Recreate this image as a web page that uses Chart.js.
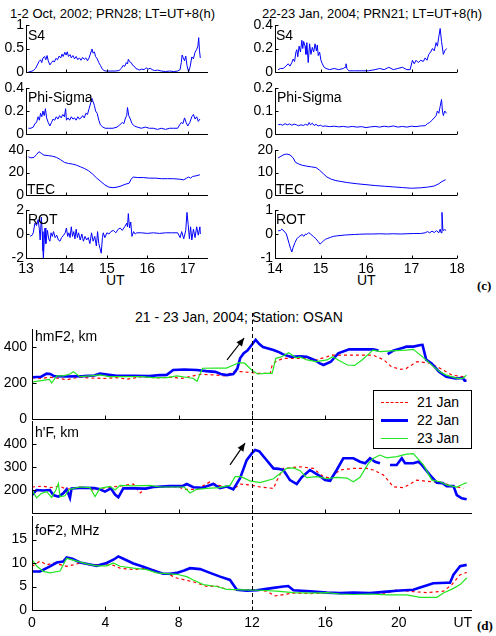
<!DOCTYPE html>
<html>
<head>
<meta charset="utf-8">
<script src="https://cdn.jsdelivr.net/npm/chart.js@4.4.1/dist/chart.umd.min.js"></script>
<style>
body { margin: 0; background: #fff; width: 496px; height: 636px; position: relative; overflow: hidden; font-family: "Liberation Sans", Arial, sans-serif; }
.txt { position: absolute; white-space: nowrap; line-height: 1; color: #000; }
.t13 { font-size: 13px; }
.t14 { font-size: 14px; }
.tag { font-family: "Liberation Serif", "Times New Roman", serif; font-weight: bold; font-size: 13px; }
canvas { position: absolute; }
</style>
</head>
<body>

<div class="txt t13" style="left:10px;top:7px">1-2 Oct, 2002; PRN28; LT=UT+8(h)</div>
<div class="txt t13" style="left:262px;top:7px">22-23 Jan, 2004; PRN21; LT=UT+8(h)</div>
<div class="txt t14" style="left:106px;top:273px">UT</div>
<div class="txt t14" style="left:357px;top:273px">UT</div>
<div class="txt tag" style="left:477px;top:279px">(c)</div>
<div class="txt t14" style="left:135px;top:310px">21 - 23 Jan, 2004; Station: OSAN</div>
<div class="txt tag" style="left:477px;top:619px">(d)</div>

<script>
//Data: [UT hour, value]
//Panel (c), left: 1-2 Oct 2002, PRN28
const octS4 = [[13.06,0],[13.12,0.01],[13.18,0.03],[13.24,0.08],[13.28,0.15],[13.32,0.22],[13.36,0.26],[13.39,0.2],[13.42,0.3],[13.46,0.33],[13.49,0.26],[13.52,0.35],[13.55,0.24],[13.59,0.15],[13.63,0.2],[13.67,0.24],[13.7,0.21],[13.74,0.29],[13.78,0.26],[13.82,0.34],[13.86,0.3],[13.89,0.38],[13.92,0.33],[13.96,0.42],[13.99,0.36],[14.02,0.43],[14.05,0.33],[14.09,0.37],[14.12,0.3],[14.16,0.35],[14.2,0.28],[14.24,0.33],[14.28,0.26],[14.32,0.3],[14.36,0.25],[14.4,0.31],[14.44,0.27],[14.48,0.3],[14.52,0.24],[14.56,0.3],[14.59,0.38],[14.61,0.44],[14.63,0.49],[14.66,0.4],[14.69,0.43],[14.72,0.33],[14.76,0.28],[14.8,0.2],[14.84,0.14],[14.88,0.07],[14.93,0.03],[14.98,0.02],[15.1,0.02],[15.2,0.02],[15.3,0.03],[15.36,0.08],[15.4,0.14],[15.44,0.12],[15.48,0.2],[15.51,0.17],[15.53,0.27],[15.56,0.22],[15.6,0.2],[15.64,0.14],[15.68,0.12],[15.72,0.07],[15.76,0.06],[15.8,0.04],[15.86,0.06],[15.92,0.05],[15.97,0.09],[16.02,0.06],[16.07,0.08],[16.12,0.05],[16.18,0.03],[16.25,0.04],[16.35,0.02],[16.45,0.01],[16.55,0.02],[16.65,0.01],[16.75,0.02],[16.81,0.05],[16.84,0.2],[16.86,0.36],[16.89,0.3],[16.92,0.24],[16.95,0.34],[16.98,0.14],[17.02,0.0],[17.06,0.12],[17.1,0.32],[17.14,0.28],[17.18,0.42],[17.22,0.48],[17.25,0.55],[17.27,0.73],[17.29,0.45],[17.31,0.3]];
const octPhi = [[13.06,0.05],[13.12,0.05],[13.18,0.06],[13.22,0.09],[13.26,0.1],[13.3,0.15],[13.33,0.12],[13.36,0.18],[13.39,0.15],[13.42,0.2],[13.45,0.16],[13.48,0.22],[13.51,0.14],[13.55,0.1],[13.59,0.07],[13.63,0.1],[13.67,0.13],[13.71,0.12],[13.75,0.15],[13.79,0.13],[13.83,0.16],[13.87,0.14],[13.91,0.17],[13.95,0.15],[13.98,0.22],[14.0,0.12],[14.04,0.14],[14.08,0.12],[14.12,0.15],[14.16,0.13],[14.2,0.14],[14.24,0.12],[14.28,0.15],[14.32,0.13],[14.36,0.14],[14.4,0.16],[14.44,0.14],[14.48,0.18],[14.52,0.17],[14.56,0.22],[14.6,0.27],[14.63,0.31],[14.66,0.28],[14.69,0.25],[14.72,0.2],[14.76,0.18],[14.8,0.12],[14.84,0.08],[14.9,0.06],[14.96,0.05],[15.05,0.05],[15.15,0.05],[15.25,0.06],[15.32,0.08],[15.38,0.1],[15.42,0.09],[15.46,0.14],[15.49,0.16],[15.51,0.23],[15.54,0.16],[15.58,0.13],[15.62,0.09],[15.68,0.07],[15.75,0.06],[15.85,0.05],[15.95,0.06],[16.05,0.05],[16.15,0.05],[16.25,0.04],[16.35,0.05],[16.45,0.04],[16.55,0.05],[16.65,0.05],[16.75,0.05],[16.8,0.08],[16.84,0.1],[16.88,0.09],[16.92,0.14],[16.96,0.1],[17.0,0.07],[17.05,0.1],[17.1,0.15],[17.14,0.17],[17.18,0.13],[17.22,0.15],[17.26,0.11],[17.3,0.13]];
const octTEC = [[13.06,34],[13.12,33],[13.2,33.5],[13.26,36],[13.32,38.5],[13.38,37],[13.44,35.5],[13.55,35],[13.65,34.5],[13.75,33.5],[13.85,31.5],[13.95,29],[14.05,28],[14.15,27.5],[14.25,26.5],[14.35,25],[14.45,23.5],[14.55,21.5],[14.65,18.5],[14.75,15],[14.85,12],[14.95,9],[15.05,7],[15.15,6.5],[15.25,7],[15.35,8],[15.45,9.5],[15.55,10.5],[15.6,14],[15.65,16],[15.75,15.5],[15.9,15.5],[16.05,15],[16.2,15],[16.35,14.5],[16.5,14.5],[16.65,14.5],[16.8,14],[16.9,13.5],[16.97,15],[17.02,16],[17.07,15],[17.12,16.5],[17.2,17],[17.3,18]];
const octROT = [[13.1,-0.2],[13.15,-0.1],[13.18,0.1],[13.22,0.9],[13.26,0.7],[13.3,1.2],[13.33,0.4],[13.35,-0.5],[13.38,1.4],[13.4,0.2],[13.42,-1.4],[13.43,-2],[13.45,-0.6],[13.47,0.5],[13.49,-0.8],[13.51,-0.2],[13.53,0.3],[13.56,-0.4],[13.59,-0.6],[13.62,0.1],[13.65,-0.2],[13.68,0.2],[13.72,-0.3],[13.76,-0.1],[13.8,-0.5],[13.84,-0.6],[13.88,-0.3],[13.93,-0.1],[13.97,0.1],[14.0,0.5],[14.03,-0.2],[14.06,0.1],[14.09,-0.3],[14.12,0.6],[14.15,-0.2],[14.18,0.2],[14.21,-0.4],[14.24,0.4],[14.27,-0.3],[14.3,0.1],[14.34,-0.5],[14.38,0],[14.42,-0.6],[14.46,-0.2],[14.5,-0.5],[14.54,-0.3],[14.58,-0.8],[14.62,0.1],[14.66,-0.6],[14.7,-0.2],[14.74,-1.0],[14.77,0.2],[14.8,-0.8],[14.83,-1.2],[14.86,-1.6],[14.89,-0.3],[14.91,0.1],[14.95,-0.3],[15.0,0.1],[15.05,0.0],[15.1,0.2],[15.16,0.3],[15.22,0.1],[15.28,0.4],[15.33,0.5],[15.38,0.3],[15.44,0.6],[15.49,0.9],[15.51,0.6],[15.53,1.7],[15.56,0.5],[15.59,1.0],[15.62,-0.2],[15.66,0.2],[15.7,0.0],[15.74,0.1],[15.85,0.1],[16.0,0.05],[16.15,0.1],[16.3,0.05],[16.45,0.1],[16.6,0.1],[16.75,0.1],[16.81,-0.3],[16.85,0.2],[16.9,-0.4],[16.95,0.3],[16.98,1.8],[17.01,0.8],[17.04,-0.4],[17.07,0.6],[17.1,-0.5],[17.14,0.4],[17.18,-0.3],[17.22,0.6],[17.26,-0.1],[17.3,0.6],[17.31,0]];

//Panel (c), right: 22-23 Jan 2004, PRN21
const janS4 = [[14.07,0.02],[14.12,0.03],[14.18,0.03],[14.24,0.05],[14.29,0.07],[14.33,0.05],[14.37,0.08],[14.4,0.11],[14.43,0.09],[14.46,0.17],[14.48,0.19],[14.5,0.13],[14.53,0.22],[14.56,0.17],[14.59,0.27],[14.61,0.2],[14.63,0.26],[14.66,0.22],[14.68,0.15],[14.7,0.25],[14.73,0.08],[14.76,0.24],[14.79,0.15],[14.82,0.21],[14.85,0.17],[14.88,0.24],[14.91,0.18],[14.93,0.23],[14.95,0.14],[14.98,0.17],[15.01,0.1],[15.04,0.07],[15.08,0.04],[15.12,0.03],[15.2,0.02],[15.3,0.03],[15.4,0.02],[15.5,0.03],[15.54,0.04],[15.56,0.07],[15.58,0.03],[15.62,0.01],[15.75,0.01],[15.9,0.01],[16.05,0.01],[16.2,0.02],[16.3,0.03],[16.4,0.02],[16.5,0.04],[16.6,0.02],[16.7,0.03],[16.8,0.04],[16.9,0.02],[16.97,0.02],[17.02,0.1],[17.06,0.07],[17.1,0.1],[17.15,0.08],[17.2,0.1],[17.26,0.09],[17.3,0.12],[17.34,0.1],[17.38,0.15],[17.42,0.17],[17.46,0.2],[17.5,0.18],[17.54,0.25],[17.57,0.22],[17.6,0.3],[17.63,0.37],[17.66,0.26],[17.7,0.15],[17.73,0.18],[17.77,0.2]];
const janPhi = [[14.07,0.04],[14.12,0.042],[14.17,0.038],[14.22,0.045],[14.27,0.04],[14.32,0.044],[14.37,0.038],[14.42,0.043],[14.47,0.04],[14.52,0.036],[14.57,0.04],[14.62,0.037],[14.67,0.042],[14.72,0.038],[14.75,0.05],[14.78,0.04],[14.82,0.047],[14.86,0.037],[14.9,0.042],[14.95,0.035],[15.0,0.038],[15.05,0.033],[15.1,0.035],[15.2,0.032],[15.3,0.034],[15.4,0.031],[15.5,0.033],[15.6,0.03],[15.7,0.033],[15.8,0.03],[15.9,0.032],[16.0,0.028],[16.1,0.031],[16.2,0.033],[16.3,0.03],[16.4,0.034],[16.5,0.031],[16.6,0.035],[16.7,0.03],[16.8,0.033],[16.9,0.03],[17.0,0.034],[17.1,0.032],[17.2,0.035],[17.3,0.036],[17.35,0.045],[17.4,0.05],[17.45,0.06],[17.5,0.07],[17.54,0.08],[17.57,0.1],[17.6,0.09],[17.63,0.12],[17.66,0.15],[17.68,0.1],[17.7,0.08],[17.73,0.1],[17.77,0.09]];
const janTEC = [[14.07,16.5],[14.13,17.2],[14.2,18],[14.26,18.2],[14.33,17.8],[14.4,16.5],[14.45,14.5],[14.52,13.8],[14.6,13.2],[14.7,12.8],[14.8,12.5],[14.9,12.2],[14.98,11],[15.06,9.5],[15.14,8],[15.24,7],[15.34,6.4],[15.45,6],[15.6,5.5],[15.8,5],[16.0,4.6],[16.2,4.2],[16.4,3.9],[16.6,3.6],[16.8,3.3],[17.0,3],[17.2,3.2],[17.35,3.5],[17.5,4],[17.6,5],[17.67,6],[17.75,6.8]];
const janROT = [[14.07,0.13],[14.12,0.15],[14.15,0.2],[14.2,0.12],[14.25,0.0],[14.31,-0.4],[14.34,-0.6],[14.37,-0.75],[14.4,-0.55],[14.44,-0.35],[14.48,-0.2],[14.52,-0.12],[14.55,-0.08],[14.6,-0.02],[14.63,-0.1],[14.67,0.0],[14.7,-0.02],[14.74,0.06],[14.78,0.0],[14.84,-0.1],[14.9,-0.2],[14.95,-0.32],[14.99,-0.42],[15.03,-0.35],[15.07,-0.28],[15.11,-0.22],[15.16,-0.18],[15.22,-0.14],[15.28,-0.1],[15.35,-0.08],[15.45,-0.06],[15.55,-0.04],[15.65,-0.03],[15.75,-0.02],[15.85,-0.01],[16.0,0.0],[16.15,0.0],[16.3,0.01],[16.45,0.0],[16.6,0.01],[16.75,0.0],[16.9,0.01],[17.05,0.02],[17.2,0.02],[17.3,0.05],[17.35,0.1],[17.4,0.05],[17.45,0.12],[17.5,0.06],[17.55,0.14],[17.6,0.05],[17.63,0.2],[17.65,0.05],[17.67,0.9],[17.69,0.15],[17.73,0.18],[17.76,0.15]];

//Panel (d): OSAN station, 21/22/23 Jan 2004
const dayLabels = ['21 Jan', '22 Jan', '23 Jan'];
const hmF2_21 = [[0,230],[0.5,225],[1.0,232],[1.5,225],[1.9,218],[2.5,232],[3.2,228],[4.0,225],[4.6,230],[5.2,222],[6.0,235],[6.8,228],[7.5,232],[8.2,226],[8.8,240],[9.2,248],[9.9,245],[10.5,240],[11.0,263],[11.5,263],[11.9,258],[12.3,254],[13.0,254],[13.1,300],[13.3,319],[13.7,337],[14.98,337],[15.5,328],[16.4,355],[17.3,355],[18.6,355],[19.2,328],[19.6,291],[20.1,276],[20.4,280],[21.0,319],[21.7,310],[22.25,282],[22.9,244],[23.5,235],[23.7,232]];
const hmF2_22 = [[0,232],[0.5,235],[0.8,252],[1.0,250],[1.2,238],[1.9,236],[2.8,238],[3.4,242],[3.7,252],[4.0,248],[4.6,240],[5.5,240],[6.4,238],[6.98,244],[7.35,245],[7.7,272],[8.3,275],[9.0,272],[9.5,266],[10.0,262],[10.3,250],[10.62,244],[10.98,250],[11.2,280],[11.35,337],[11.55,365],[11.75,380],[12.2,440],[12.4,416],[12.6,400],[13.17,383],[13.5,370],[13.7,359],[14.1,346],[14.6,348],[14.98,346],[15.4,328],[15.7,309],[15.9,300],[16.3,318],[16.7,365],[17.3,387],[18.0,387],[18.6,387],[18.9,380],[19.1,null],[19.4,360],[19.7,380],[20.2,395],[20.43,402],[20.8,402],[21.2,411],[21.3,412],[21.5,330],[21.8,309],[22.2,263],[22.6,235],[23.1,226],[23.5,228],[23.6,213],[23.7,213]];
const hmF2_23 = [[0,205],[0.3,210],[0.6,215],[0.95,220],[1.07,200],[1.35,240],[1.7,240],[2.07,250],[2.25,262],[2.62,235],[3.2,240],[3.71,245],[4.2,235],[5.0,235],[6.0,235],[6.6,230],[7.35,230],[7.9,240],[8.4,232],[8.8,225],[9.0,210],[9.3,282],[10.0,283],[10.6,283],[11.0,300],[11.3,313],[11.6,310],[11.98,272],[12.3,250],[12.7,253],[13.1,253],[13.3,337],[13.6,345],[14.0,368],[14.4,340],[14.6,345],[15.0,328],[15.5,319],[16.1,328],[16.4,346],[16.7,328],[17.2,300],[17.6,298],[18.0,328],[18.6,383],[19.0,374],[19.6,378],[20.4,383],[20.8,387],[21.4,337],[21.9,291],[22.25,263],[22.6,244],[23.2,226],[23.5,226],[23.7,244]];
const hF_21 = [[0,213],[0.6,217],[1.0,210],[1.5,217],[1.89,203],[2.6,213],[3.35,200],[4.0,210],[4.8,217],[5.53,226],[5.9,187],[6.3,213],[7.0,213],[8.0,213],[8.3,203],[9.0,203],[9.7,235],[10.2,220],[10.62,213],[10.98,203],[11.35,226],[11.89,222],[12.44,213],[13.17,207],[13.35,240],[13.71,294],[14.62,301],[15.35,294],[15.89,258],[16.26,252],[16.8,287],[17.53,294],[18.26,294],[18.62,287],[19.17,265],[19.71,214],[20.26,210],[20.98,243],[21.53,238],[22.26,233],[22.99,217],[23.53,207]];
const hF_22 = [[0,178],[0.25,200],[0.6,198],[0.98,200],[1.16,178],[1.44,171],[1.7,185],[1.89,203],[2.07,166],[2.16,207],[2.8,210],[3.4,208],[3.71,203],[3.98,193],[4.3,207],[4.53,180],[4.71,168],[4.98,207],[5.6,207],[6.2,206],[6.62,213],[7.5,217],[8.2,217],[8.44,226],[8.8,212],[9.3,210],[9.89,226],[10.25,208],[10.62,215],[10.98,203],[11.35,251],[11.71,330],[12.0,360],[12.17,374],[12.4,368],[12.71,338],[13.17,294],[13.45,292],[13.71,287],[14.07,243],[14.44,226],[14.71,255],[15.16,287],[15.62,265],[15.98,243],[16.26,240],[16.62,287],[16.98,338],[17.53,338],[17.89,323],[18.17,316],[18.44,338],[18.71,323],[18.98,316],[19.2,null],[19.53,309],[19.89,309],[20.17,338],[20.35,316],[20.8,316],[21.08,323],[21.26,309],[21.71,265],[22.08,232],[22.4,230],[22.62,217],[22.99,217],[23.17,178],[23.44,164],[23.71,160]];
const hF_23 = [[0,200],[0.25,166],[0.5,185],[0.8,193],[1.07,168],[1.3,200],[1.44,229],[1.53,171],[1.8,175],[2.0,200],[2.25,207],[2.62,213],[3.16,210],[3.44,171],[3.71,207],[4.26,216],[4.53,200],[4.8,220],[5.53,218],[6.44,220],[6.98,213],[7.5,213],[8.3,213],[8.62,187],[8.98,203],[9.53,207],[10.2,210],[10.8,220],[11.08,258],[11.4,258],[11.89,240],[12.44,232],[13.17,249],[13.53,272],[13.89,294],[14.26,296],[14.62,284],[14.98,254],[15.53,258],[16.08,249],[16.62,255],[17.17,252],[17.53,236],[17.89,255],[18.35,316],[18.62,338],[18.98,352],[19.35,340],[19.9,345],[20.43,356],[20.8,358],[21.35,309],[21.81,243],[22.26,236],[22.62,222],[23.17,213],[23.53,226],[23.71,232]];
const foF2_21 = [[0,9.3],[0.44,10.4],[0.8,9.6],[1.16,10.0],[1.89,9.3],[2.25,9.6],[2.62,10.0],[3.16,9.6],[3.71,9.7],[4.44,9.5],[4.8,8.9],[5.53,8.6],[6.26,8.9],[6.62,8.6],[6.98,7.9],[7.5,7.5],[7.89,6.8],[8.44,6.3],[8.8,6.0],[9.53,5.0],[10.07,5.1],[10.62,4.4],[11.5,4.3],[12.26,4.3],[12.8,4.0],[13.26,3.0],[14.26,3.6],[15.17,3.5],[16.09,3.7],[17.0,3.6],[18.0,3.6],[19.35,3.6],[19.89,4.3],[20.8,3.9],[21.53,3.7],[22.44,4.0],[22.9,5.4],[23.35,7.5],[23.71,8.0]];
const foF2_22 = [[0,8.2],[0.44,8.2],[0.98,9.3],[1.35,10.1],[1.7,10.3],[1.89,11.2],[2.2,10.9],[2.62,10.1],[3.16,9.7],[3.53,9.4],[4.07,10.0],[4.44,10.7],[4.71,11.4],[4.98,10.9],[5.53,9.9],[6.07,9.2],[6.62,8.4],[7.16,7.7],[7.53,7.7],[7.89,7.9],[8.3,8.4],[8.62,8.9],[9.17,8.7],[9.71,7.9],[10.26,7.1],[10.8,6.4],[11.17,4.3],[11.71,4.1],[12.26,4.2],[12.98,4.6],[13.71,5.0],[13.98,5.1],[14.26,4.2],[15.17,4.0],[16.09,3.7],[16.8,3.6],[17.53,3.7],[18.44,3.6],[19.35,3.9],[19.89,4.1],[20.8,4.3],[21.17,4.8],[21.89,5.7],[22.62,5.8],[22.8,5.8],[22.99,7.5],[23.35,9.3],[23.71,9.6]];
const foF2_23 = [[0,10.7],[0.27,9.3],[0.62,8.2],[0.98,7.9],[1.53,8.3],[1.89,11.0],[2.44,10.4],[2.98,9.8],[3.53,9.4],[4.07,9.4],[4.44,10.0],[4.8,9.3],[5.53,8.9],[6.26,8.6],[6.8,7.9],[7.53,7.7],[7.89,7.6],[8.44,7.1],[8.8,6.4],[9.35,5.4],[10.07,5.0],[10.62,4.4],[11.53,4.3],[12.44,4.2],[13.35,4.0],[14.26,3.7],[15.17,3.6],[16.09,3.7],[16.8,3.4],[17.53,3.3],[18.44,3.4],[19.35,3.2],[20.44,3.2],[21.17,2.7],[22.08,2.7],[22.44,3.6],[22.99,4.6],[23.35,5.4],[23.71,6.8]];

//Tick values
const octTicksX = [13, 14, 15, 16, 17];
const janTicksX = [14, 15, 16, 17, 18];
const utTicksX = [0, 4, 8, 12, 16, 20, 23.5]; // the last one carries the "UT" label
const eventHour = 12; // dashed marker line in (d)

//Styles
const thinBlue = '#0000ff';
const dayColors = ['#ff0000', '#0000ff', '#22e622'];
const dayWidths = [1.2, 2.6, 1.2];
const dayDashes = [[3, 3], [], []];

function dayLines(d21, d22, d23) { //green on top, red underneath (first dataset is drawn last)
    return [
        { data: d23, color: dayColors[2], width: dayWidths[2], dash: dayDashes[2] },
        { data: d22, color: dayColors[1], width: dayWidths[1], dash: dayDashes[1] },
        { data: d21, color: dayColors[0], width: dayWidths[0], dash: dayDashes[0] }
    ];
}

function axesPlugin(p) { //matlab style axes: left + bottom line, ticks pointing inward
    return {
        id: 'matlabAxes',
        afterDatasetsDraw(chart) {
            const ctx = chart.ctx;
            const a = chart.chartArea;
            const xs = chart.scales.x, ys = chart.scales.y;
            const L = Math.round(a.left) + 0.5, B = Math.round(a.bottom) + 0.5;
            ctx.save();
            if (p.vline !== undefined) { //dashed event line
                const vx = Math.round(xs.getPixelForValue(p.vline)) + 0.5;
                ctx.strokeStyle = '#000';
                ctx.lineWidth = 1;
                ctx.setLineDash([4, 3]);
                ctx.beginPath();
                ctx.moveTo(vx, a.top - (p.vlineUp || 0));
                ctx.lineTo(vx, a.bottom);
                ctx.stroke();
                ctx.setLineDash([]);
            }
            if (p.arrow) { //arrow pointing at the uplift
                const x0 = xs.getPixelForValue(p.arrow[0]), y0 = ys.getPixelForValue(p.arrow[1]);
                const x1 = xs.getPixelForValue(p.arrow[2]), y1 = ys.getPixelForValue(p.arrow[3]);
                const ang = Math.atan2(y1 - y0, x1 - x0);
                ctx.strokeStyle = '#000';
                ctx.fillStyle = '#000';
                ctx.lineWidth = 1.2;
                ctx.beginPath();
                ctx.moveTo(x0, y0);
                ctx.lineTo(x1, y1);
                ctx.stroke();
                ctx.beginPath();
                ctx.moveTo(x1, y1);
                ctx.lineTo(x1 - 8 * Math.cos(ang) + 3.5 * Math.sin(ang), y1 - 8 * Math.sin(ang) - 3.5 * Math.cos(ang));
                ctx.lineTo(x1 - 8 * Math.cos(ang) - 3.5 * Math.sin(ang), y1 - 8 * Math.sin(ang) + 3.5 * Math.cos(ang));
                ctx.closePath();
                ctx.fill();
            }
            ctx.strokeStyle = '#000';
            ctx.lineWidth = 1;
            ctx.beginPath();
            ctx.moveTo(L, Math.round(a.top));
            ctx.lineTo(L, B);
            ctx.lineTo(Math.round(a.right), B);
            p.xticks.forEach(v => {
                if (p.noMark && p.noMark(v)) return;
                const x = Math.round(xs.getPixelForValue(v)) + 0.5;
                ctx.moveTo(x, B);
                ctx.lineTo(x, B - p.tl);
            });
            p.yticks.forEach(v => {
                const y = Math.round(ys.getPixelForValue(v)) + 0.5;
                ctx.moveTo(L, y);
                ctx.lineTo(L + p.tl, y);
            });
            ctx.stroke();
            ctx.restore();
        }
    };
}

function makePanel(p) { //one axes = one chart, its plot area placed at p.l..p.r, p.t..p.b
    const w = p.yw + (p.r - p.l) + p.pr;
    const h = p.pt + (p.b - p.t) + p.xh;
    const cv = document.createElement('canvas');
    cv.width = w;
    cv.height = h;
    cv.style.left = (p.l - p.yw) + 'px';
    cv.style.top = (p.t - p.pt) + 'px';
    cv.style.width = w + 'px';
    cv.style.height = h + 'px';
    document.body.appendChild(cv);
    const font = { family: '"Liberation Sans", Arial, sans-serif', size: p.fs };
    new Chart(cv, {
        type: 'line',
        data: {
            datasets: p.series.map(s => ({
                data: s.data.map(d => ({ x: d[0], y: d[1] })),
                borderColor: s.color,
                borderWidth: s.width,
                borderDash: s.dash || [],
                pointRadius: 0,
                tension: 0,
                fill: false,
                spanGaps: false
            }))
        },
        options: {
            responsive: false,
            animation: false,
            events: [],
            layout: { padding: { top: p.pt, right: p.pr, left: 0, bottom: 0 } },
            plugins: { legend: { display: false }, tooltip: { enabled: false } },
            scales: {
                x: {
                    type: 'linear', min: p.xmin, max: p.xmax,
                    grid: { display: false, drawTicks: false },
                    border: { display: false },
                    afterBuildTicks: s => { s.ticks = p.xticks.map(v => ({ value: v })); },
                    afterFit: s => { s.height = p.xh; },
                    ticks: {
                        display: !!p.showX, padding: p.xpad, color: '#000', font: font,
                        maxRotation: 0, autoSkip: false,
                        callback: v => (p.xlab ? p.xlab(v) : String(v))
                    }
                },
                y: {
                    type: 'linear', min: p.ymin, max: p.ymax,
                    grid: { display: false, drawTicks: false },
                    border: { display: false },
                    afterBuildTicks: s => { s.ticks = p.yticks.map(v => ({ value: v })); },
                    afterFit: s => { s.width = p.yw; },
                    ticks: { padding: p.ypad, color: '#000', font: font, callback: v => String(v) }
                }
            }
        },
        plugins: [axesPlugin(p)]
    });
    if (p.label) { //axes name written inside the plot box
        const d = document.createElement('div');
        d.className = 'txt ' + (p.lfs === 14 ? 't14' : 't13');
        d.style.left = (p.l + p.label[1]) + 'px';
        d.style.top = p.label[2] + 'px';
        d.textContent = p.label[0];
        document.body.appendChild(d);
    }
}

//Top panels (c)
const topRows = [
    { t: 25, b: 72 }, { t: 88, b: 134 }, { t: 150, b: 195 }, { t: 210, b: 258 }
];
const octPanels = [
    { data: octS4, ymin: 0, ymax: 1, yticks: [0, 0.5, 1], label: ['S4', 2, 28] },
    { data: octPhi, ymin: 0, ymax: 0.4, yticks: [0, 0.2, 0.4], label: ['Phi-Sigma', 2, 90] },
    { data: octTEC, ymin: 0, ymax: 40, yticks: [0, 20, 40], label: ['TEC', 1, 182] },
    { data: octROT, ymin: -2, ymax: 2, yticks: [-2, 0, 2], label: ['ROT', 2, 212] }
];
const janPanels = [
    { data: janS4, ymin: 0, ymax: 0.4, yticks: [0, 0.2, 0.4], label: ['S4', 1, 28] },
    { data: janPhi, ymin: 0, ymax: 0.2, yticks: [0, 0.1, 0.2], label: ['Phi-Sigma', 2, 90] },
    { data: janTEC, ymin: 0, ymax: 20, yticks: [0, 10, 20], label: ['TEC', 1, 182] },
    { data: janROT, ymin: -1, ymax: 1, yticks: [-1, 0, 1], label: ['ROT', 1, 212] }
];

octPanels.forEach((q, i) => {
    makePanel({
        l: 26, r: 208, t: topRows[i].t, b: topRows[i].b, yw: 26, pr: 8, pt: 12,
        xh: i === 3 ? 24 : 12, fs: 14, lfs: 14, xpad: 3, ypad: 2, tl: 3,
        xmin: 13, xmax: 17.5, xticks: octTicksX, showX: i === 3,
        ymin: q.ymin, ymax: q.ymax, yticks: q.yticks, label: q.label,
        series: [{ data: q.data, color: thinBlue, width: 1 }]
    });
});
janPanels.forEach((q, i) => {
    makePanel({
        l: 275, r: 457, t: topRows[i].t, b: topRows[i].b, yw: 30, pr: 12, pt: 12,
        xh: i === 3 ? 24 : 12, fs: 14, lfs: 14, xpad: 3, ypad: 2, tl: 3,
        xmin: 14, xmax: 18, xticks: janTicksX, showX: i === 3,
        ymin: q.ymin, ymax: q.ymax, yticks: q.yticks, label: q.label,
        series: [{ data: q.data, color: thinBlue, width: 1 }]
    });
});

//Bottom panels (d)
const bottomBase = { l: 32, r: 472, yw: 32, pr: 14, fs: 14, lfs: 14, xpad: 5, ypad: 5, tl: 4, xmin: 0, xmax: 24, xticks: utTicksX, vline: eventHour };
makePanel(Object.assign({}, bottomBase, {
    t: 329, b: 419, pt: 20, xh: 14, vlineUp: 16,
    ymin: 0, ymax: 500, yticks: [0, 200, 400], label: ['hmF2, km', 3, 329],
    arrow: [10.64, 328, 11.57, 450], noMark: v => v > 22,
    series: dayLines(hmF2_21, hmF2_22, hmF2_23)
}));
makePanel(Object.assign({}, bottomBase, {
    t: 421, b: 513, pt: 14, xh: 14,
    ymin: 100, ymax: 500, yticks: [200, 300, 400], label: ["h'F, km", 3, 425],
    arrow: [10.8, 309, 11.62, 404], noMark: v => v > 22,
    series: dayLines(hF_21, hF_22, hF_23)
}));
makePanel(Object.assign({}, bottomBase, {
    t: 516, b: 610, pt: 14, xh: 24, showX: true,
    ymin: 0, ymax: 20, yticks: [0, 5, 10, 15], label: ['foF2, MHz', 3, 523],
    noMark: v => v > 22, xlab: v => (v > 22 ? 'UT' : String(v)),
    series: dayLines(foF2_21, foF2_22, foF2_23)
}));

//Legend for (d), drawn on top of the hmF2 / h'F boundary
const leg = document.createElement('div');
leg.style.cssText = 'position:absolute;left:373px;top:390px;width:99px;height:59px;border:1px solid #000;background:#fff;box-sizing:border-box;';
dayLabels.forEach((name, i) => {
    const cy = 11 + i * 18;
    const line = document.createElement('div');
    const style = dayDashes[i].length ? 'dashed' : 'solid';
    const bw = Math.round(dayWidths[i]);
    line.style.cssText = 'position:absolute;left:7px;width:27px;top:' + (cy - Math.floor(bw / 2)) + 'px;border-top:' + bw + 'px ' + style + ' ' + dayColors[i] + ';';
    leg.appendChild(line);
    const t = document.createElement('div');
    t.className = 'txt t14';
    t.style.left = '43px';
    t.style.top = (cy - 7) + 'px';
    t.textContent = name;
    leg.appendChild(t);
});
document.body.appendChild(leg);
</script>
</body>
</html>
